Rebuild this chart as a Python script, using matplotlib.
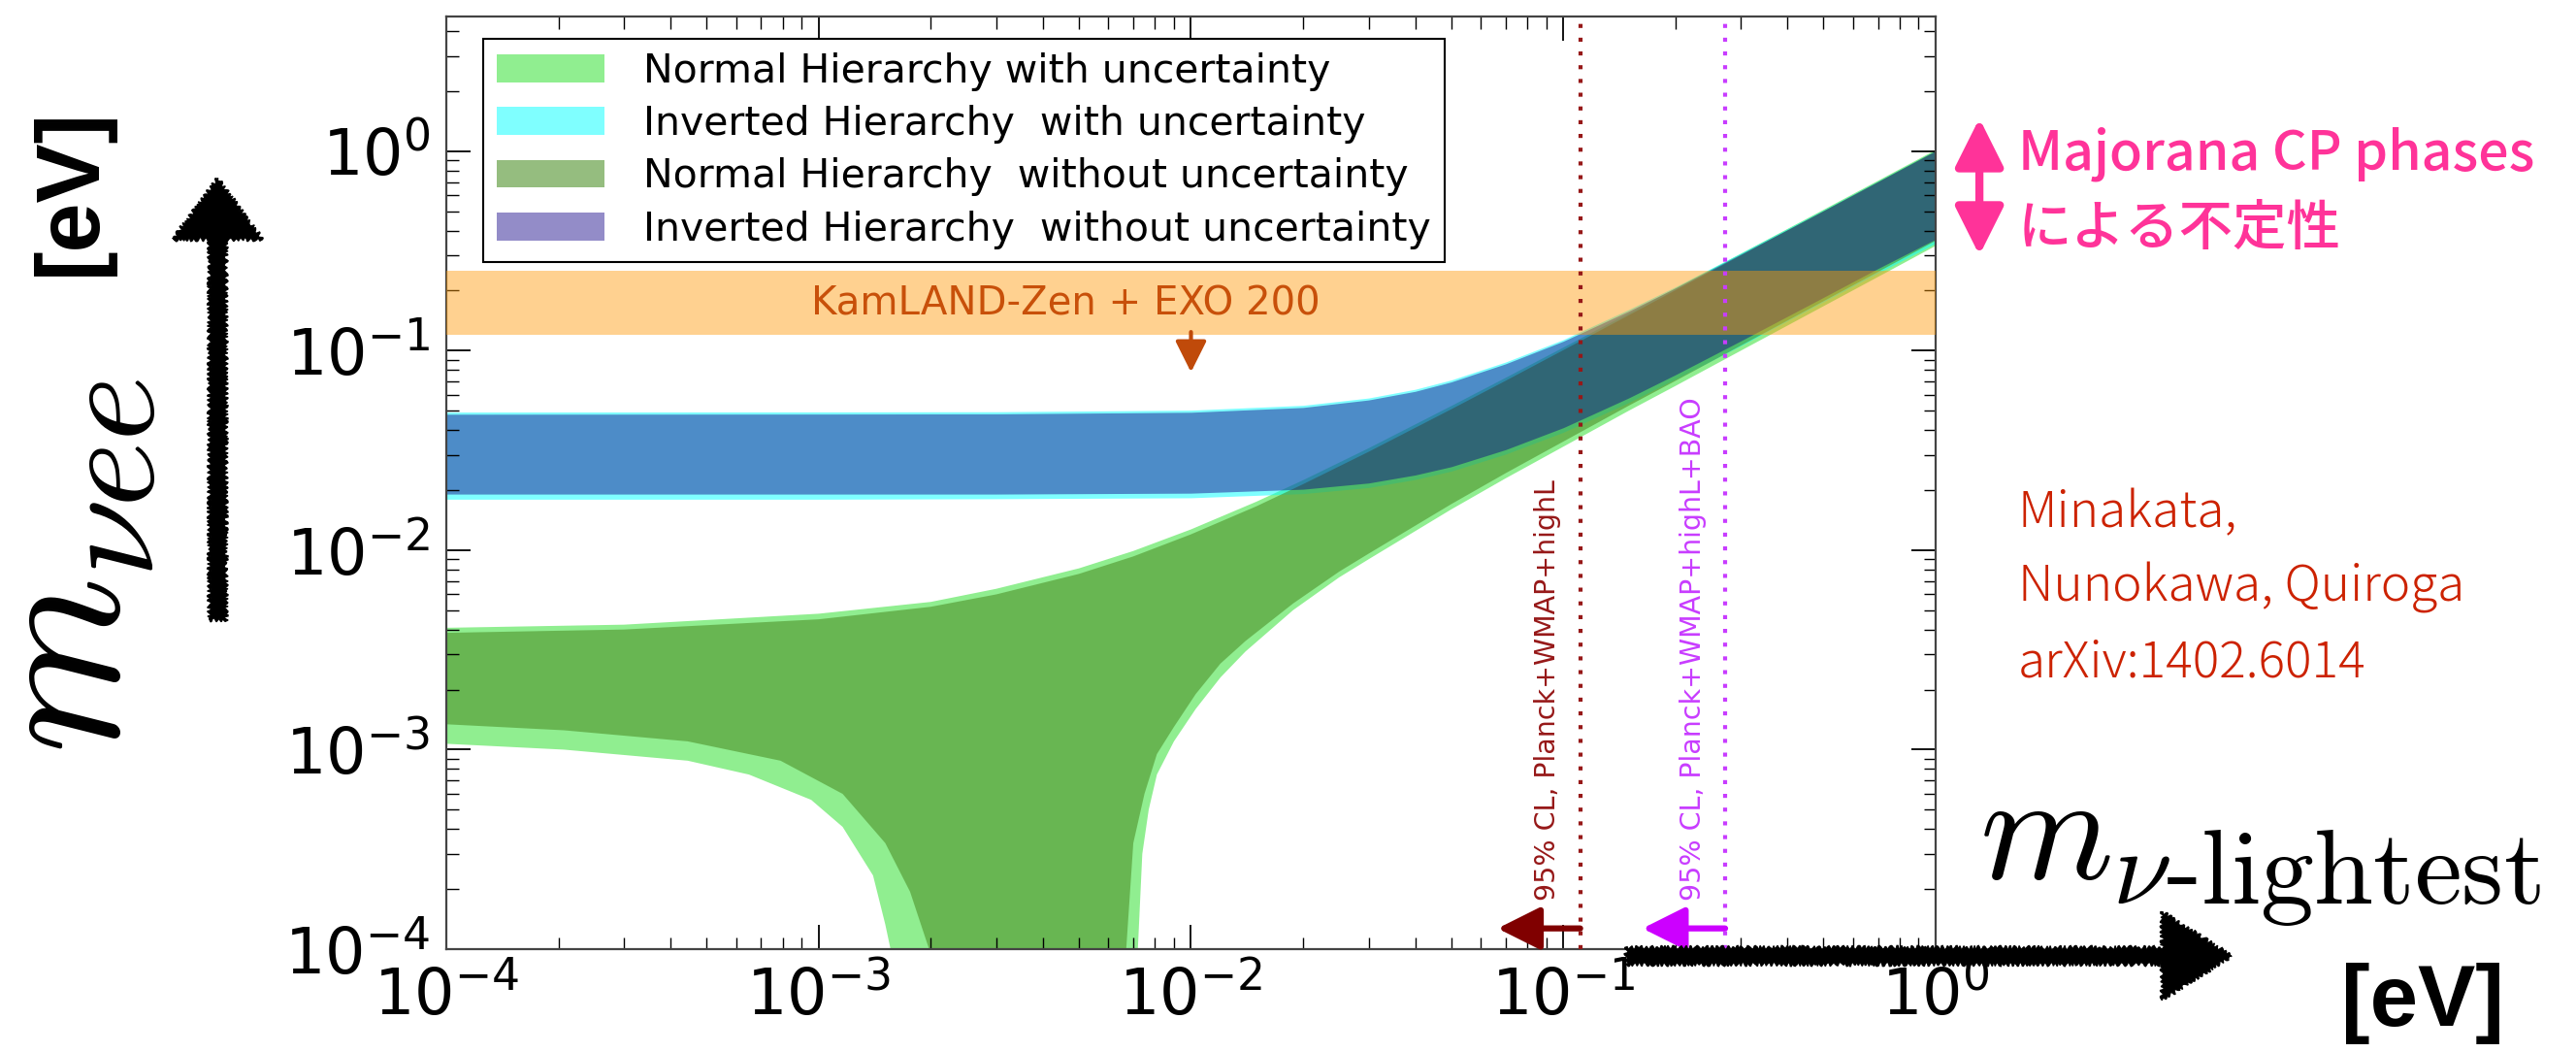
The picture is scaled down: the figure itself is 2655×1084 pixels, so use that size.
import numpy as np
import matplotlib
matplotlib.use('Agg')
import matplotlib.pyplot as plt
from matplotlib.patches import FancyArrow, FancyArrowPatch

# ---------------------------------------------------------------
# values (eV)
# ---------------------------------------------------------------
# normal hierarchy, upper edge
nh_top_x = [1e-4, 3e-4, 1e-3, 2e-3, 3e-3, 5e-3, 7e-3, 1e-2, 1.5e-2, 2e-2,
            3e-2, 5e-2, 7e-2, 0.1, 0.15, 0.2, 0.3, 0.5, 0.7, 1.0]
nh_in_top = [0.00385, 0.0040, 0.0045, 0.0052, 0.0060, 0.0076, 0.0093, 0.0120,
             0.0166, 0.0214, 0.0311, 0.0508, 0.0706, 0.1005, 0.1505, 0.2005,
             0.300, 0.500, 0.700, 1.000]
nh_out_top = [0.00408, 0.00423, 0.0048, 0.0055, 0.0064, 0.0081, 0.0099, 0.0127,
              0.0175, 0.0224, 0.0324, 0.0527, 0.0730, 0.1035, 0.154, 0.205,
              0.306, 0.508, 0.710, 1.013]

# normal hierarchy, lower edge right of the funnel (going left/down)
nh_in_lowr_x = [1.0, 0.7, 0.5, 0.3, 0.2, 0.15, 0.1, 0.07, 0.05, 0.03, 0.025,
                0.0188, 0.014, 0.012, 0.0103, 0.009, 0.0081, 0.0075, 0.0070,
                0.0067, 0.00665]
nh_in_lowr_y = [0.355, 0.248, 0.177, 0.106, 0.0705, 0.053, 0.035, 0.0243,
                0.0170, 0.0096, 0.0078, 0.0054, 0.0035, 0.0027, 0.0019, 0.0013,
                0.00095, 0.0006, 0.00034, 1e-4, 1e-5]
nh_out_lowr_x = [1.0, 0.7, 0.5, 0.3, 0.2, 0.15, 0.1, 0.07, 0.05, 0.03, 0.025,
                 0.0188, 0.014, 0.012, 0.0103, 0.009, 0.0081, 0.0077, 0.0074,
                 0.0072, 0.00715]
nh_out_lowr_y = [0.335, 0.234, 0.167, 0.100, 0.0665, 0.050, 0.033, 0.0229,
                 0.0160, 0.0090, 0.0073, 0.0050, 0.0031, 0.0023, 0.0016, 0.0011,
                 0.00075, 0.0005, 0.0003, 1e-4, 1e-5]

# normal hierarchy, lower edge left of the funnel (going up/left)
nh_in_lowl_x = [2.05e-3, 1.98e-3, 1.76e-3, 1.51e-3, 1.16e-3, 7.9e-4, 4.45e-4,
                2.07e-4, 1e-4]
nh_in_lowl_y = [1e-5, 1e-4, 1.94e-4, 3.4e-4, 6.0e-4, 8.8e-4, 1.10e-3, 1.25e-3,
                1.34e-3]
nh_out_lowl_x = [1.58e-3, 1.56e-3, 1.51e-3, 1.40e-3, 1.16e-3, 9.55e-4, 6.5e-4,
                 4.45e-4, 2.07e-4, 1e-4]
nh_out_lowl_y = [1e-5, 1e-4, 1.33e-4, 2.34e-4, 4.1e-4, 5.6e-4, 7.5e-4, 8.8e-4,
                 1.0e-3, 1.07e-3]

# inverted hierarchy
ih_x = [1e-4, 1e-3, 3e-3, 0.01, 0.02, 0.03, 0.04, 0.05, 0.07, 0.1, 0.15, 0.2,
        0.3, 0.5, 0.7, 1.0]
ih_in_top = [0.0480, 0.0481, 0.0482, 0.0491, 0.0519, 0.0566, 0.0625, 0.0697,
             0.0859, 0.1115, 0.158, 0.206, 0.305, 0.503, 0.703, 1.004]
ih_out_top = [0.0492, 0.0493, 0.0494, 0.0503, 0.0532, 0.0579, 0.0640, 0.0713,
              0.0877, 0.1136, 0.161, 0.209, 0.309, 0.508, 0.709, 1.01]
ih_in_low = [0.0191, 0.0191, 0.0191, 0.0193, 0.0202, 0.0217, 0.0238, 0.0262,
             0.0319, 0.0411, 0.058, 0.0757, 0.112, 0.185, 0.258, 0.362]
ih_out_low = [0.0180, 0.0180, 0.0181, 0.0183, 0.0192, 0.0206, 0.0226, 0.0249,
              0.0303, 0.039, 0.055, 0.072, 0.106, 0.176, 0.245, 0.345]

# experimental limits
kamland_band = [0.12, 0.25]
planck_limit = 0.111
bao_limit = 0.272

legend_labels = ['Normal Hierarchy with uncertainty',
                 'Inverted Hierarchy  with uncertainty',
                 'Normal Hierarchy  without uncertainty',
                 'Inverted Hierarchy  without uncertainty']

#---------------------------------------------------------------
fig = plt.figure(figsize=(26.55, 10.84), dpi=100)
ax = fig.add_axes([0.17326, 0.09779, 0.57815, 0.88653])
ax.set_xscale('log')
ax.set_yscale('log')

def outline(top_x, top_y, rx, ry, lx, ly):
    #stitch the upper edge and the two branches of the lower edge
    return list(top_x) + list(rx) + list(lx), list(top_y) + list(ry) + list(ly)

xo, yo = outline(nh_top_x, nh_out_top, nh_out_lowr_x, nh_out_lowr_y,
                 nh_out_lowl_x, nh_out_lowl_y)
xi, yi = outline(nh_top_x, nh_in_top, nh_in_lowr_x, nh_in_lowr_y,
                 nh_in_lowl_x, nh_in_lowl_y)

h1 = ax.fill(xo, yo, color='#90EE90', alpha=1.0, lw=0, label=legend_labels[0])[0]
h2 = ax.fill_between(ih_x, ih_out_low, ih_out_top, color='#00FFFF', alpha=0.5,
                     lw=0, label=legend_labels[1])
h3 = ax.fill(xi, yi, color='#4E922A', alpha=0.6, lw=0, label=legend_labels[2])[0]
h4 = ax.fill_between(ih_x, ih_in_low, ih_in_top, color='#110085', alpha=0.45,
                     lw=0, label=legend_labels[3])

#KamLAND-Zen + EXO band
ax.axhspan(kamland_band[0], kamland_band[1], color='#FF9B0A', alpha=0.45, lw=0,
           zorder=3)
ax.text(0.0046, 0.17, 'KamLAND-Zen + EXO 200', color='#C8500A', fontsize=29,
        ha='center', va='center', zorder=4)
ax.annotate('', xy=(0.01, 0.078), xytext=(0.01, 0.124),
            arrowprops=dict(arrowstyle='-|>,head_length=0.7,head_width=0.35',
                            color='#C04A0A', lw=3, mutation_scale=28,
                            shrinkA=0, shrinkB=0), zorder=4)

#cosmology bounds
for lim, lcol, acol, txt in [
        (planck_limit, '#961818', '#800000', '95% CL, Planck+WMAP+highL'),
        (bao_limit, '#C83CFF', '#CC00FF', '95% CL, Planck+WMAP+highL+BAO')]:
    ax.axvline(lim, color=lcol, lw=3, linestyle=(0, (1, 2.4)), zorder=4)
    ax.annotate(txt, xy=(lim, 1.76e-4), xytext=(-14, 0),
                textcoords='offset points', rotation=90, ha='right',
                va='bottom', color=lcol, fontsize=20.5, zorder=5)
    ax.annotate('', xy=(lim * 0.6, 1.27e-4), xytext=(lim, 1.27e-4),
                arrowprops=dict(arrowstyle='-|>,head_length=0.9,head_width=0.45',
                                color=acol, lw=4.5, mutation_scale=30,
                                shrinkA=0, shrinkB=0), zorder=5)
    ax.plot([lim * 0.75], [1.27e-4], marker='|', markersize=20, mew=4,
            color=acol, zorder=5)

ax.set_xlim(1e-4, 1.0)
ax.set_ylim(1e-4, 4.73)

ax.tick_params(which='both', direction='in', top=True, right=True,
               labelsize=47, pad=12)
ax.tick_params(which='major', length=18, width=1.3)
ax.tick_params(which='minor', length=9, width=1.0)
for sp in ax.spines.values():
    sp.set_color('#444444')
    sp.set_linewidth(1.6)

leg = ax.legend(handles=[h1, h2, h3, h4], loc='upper left',
                bbox_to_anchor=(0.025, 0.976), borderaxespad=0, fontsize=29.5,
                fancybox=False, framealpha=1, edgecolor='black',
                handlelength=2.7, handleheight=0.7, handletextpad=1.0,
                labelspacing=0.35, borderpad=0.33)
leg.get_frame().set_linewidth(1.5)
leg.set_zorder(10)

#---------------------------------------------------------------
# slide annotations
#---------------------------------------------------------------
fig.text(0.025, 0.462, r'$m_{\nu ee}$', rotation=90, fontsize=150,
         ha='center', va='center', math_fontfamily='cm')
fig.text(0.028, 0.818, '[eV]', rotation=90, fontsize=66, fontweight='bold',
         family='Liberation Sans', ha='center', va='center')
fig.text(0.7684, 0.164, r'$m_{\nu\text{-lightest}}$', fontsize=113,
         ha='left', va='baseline', math_fontfamily='cm')
fig.text(0.9405, 0.046, '[eV]', fontsize=64, fontweight='bold',
         family='Liberation Sans', ha='center', va='center')

#hand drawn style arrows
up = FancyArrow(0.0845, 0.4105, 0, 0.4198, width=0.0066, head_width=0.0350,
                head_length=0.0580, length_includes_head=True,
                transform=fig.transFigure, color='black')
right = FancyArrow(0.6313, 0.0913, 0.2350, 0, width=0.0160, head_width=0.0840,
                   head_length=0.0270, length_includes_head=True,
                   transform=fig.transFigure, color='black')
for arr in (up, right):
    arr.set_sketch_params(scale=2, length=6, randomness=3)
    fig.add_artist(arr)

pink = '#FF3399'
fig.patches.append(FancyArrowPatch(
    (0.7684, 0.7574), (0.7684, 0.8875), transform=fig.transFigure,
    arrowstyle='<|-|>,head_length=0.8,head_width=0.4', mutation_scale=38,
    lw=6, color=pink, shrinkA=0, shrinkB=0))
cjk = ['Noto Sans CJK JP', 'DejaVu Sans']
fig.text(0.7834, 0.8386, 'Majorana CP phases', color=pink, fontsize=40,
         family=cjk, fontweight='medium', va='baseline')
fig.text(0.7834, 0.7675, 'による不定性', color=pink, fontsize=40,
         family=cjk, fontweight='medium', va='baseline')

ref_lines = ['Minakata,', 'Nunokawa, Quiroga', 'arXiv:1402.6014']
for i, line in enumerate(ref_lines):
    fig.text(0.7834, 1 - (543 + 77 * i) / 1084, line, color='#CC2200',
             fontsize=37, family=cjk, fontweight='light', va='baseline')

fig.savefig('out.png', dpi=100)
